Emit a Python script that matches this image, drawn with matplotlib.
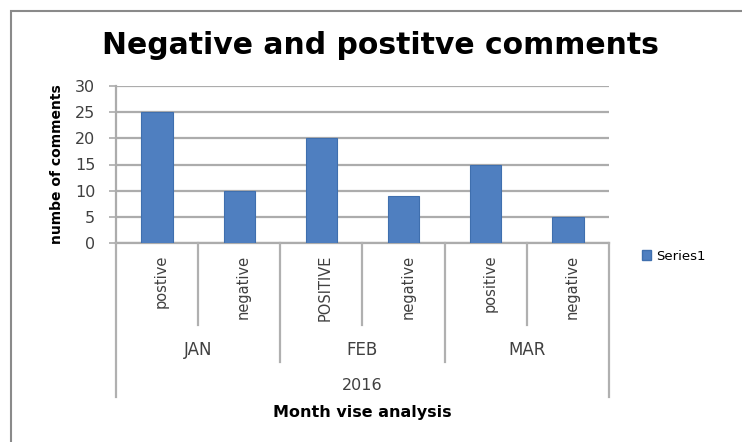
import matplotlib.pyplot as plt
import matplotlib.transforms as mtransforms
from matplotlib.lines import Line2D
from matplotlib.patches import Rectangle, Patch

# chart data
months = ['JAN', 'FEB', 'MAR']
year = '2016'
labels = ['postive', 'negative', 'POSITIVE', 'negative', 'positive', 'negative']
counts = [25, 10, 20, 9, 15, 5]

W, H = 742, 442
fig = plt.figure(figsize=(W / 100, H / 100), dpi=100)
plt.rcParams['font.family'] = ['DejaVu Sans']

def fy(py):
    # pixel row -> figure fraction
    return 1 - py / H

ax_l, ax_r, ax_t, ax_b = 116, 609, 86, 243
ax = fig.add_axes([ax_l / W, fy(ax_b), (ax_r - ax_l) / W, (ax_b - ax_t) / H])

x = list(range(len(counts)))
ax.bar(x, counts, width=0.38, color='#4F7FC0', edgecolor='#3f6fae', linewidth=0.8, zorder=3)
ax.set_xlim(-0.5, len(counts) - 0.5)
ax.set_ylim(0, 30)
ax.set_yticks(range(0, 31, 5))
ax.yaxis.grid(True, color='#acacac', linewidth=1.6, zorder=0)
ax.tick_params(axis='y', length=5, width=1.2, color='#acacac', labelsize=11.5,
               labelcolor='#404040', pad=10)
ax.tick_params(axis='x', bottom=False, labelbottom=False)
for s in ['top', 'right']:
    ax.spines[s].set_visible(False)
for s in ['left', 'bottom']:
    ax.spines[s].set_color('#acacac')
    ax.spines[s].set_linewidth(1.6)

ax.set_ylabel('numbe of comments', fontsize=10, fontweight='bold', labelpad=8,
              family=['Liberation Sans Narrow', 'DejaVu Sans'])

# multi-level category axis
tr = mtransforms.blended_transform_factory(ax.transData, fig.transFigure)
sep = '#b0b0b0'
for i in range(len(counts) + 1):
    xb = i - 0.5
    if i in (0, len(counts)):
        yend = 397
    elif i % 2 == 0:
        yend = 362
    else:
        yend = 325
    fig.add_artist(Line2D([xb, xb], [fy(ax_b), fy(yend)], transform=tr, color=sep, lw=1.6))

for i, lab in enumerate(labels):
    fig.text(i + 0.05, fy(255), lab, transform=tr, rotation=90, ha='center', va='top',
             fontsize=10.5, color='#404040')

for m, name in enumerate(months):
    fig.text(2 * m + 0.5, fy(350), name, transform=tr, ha='center', va='center',
             fontsize=12, color='#404040')

fig.text(2.5, fy(386), year, transform=tr, ha='center', va='center',
         fontsize=11.5, color='#404040')
fig.text(2.5, fy(412), 'Month vise analysis', transform=tr, ha='center', va='center',
         fontsize=11.5, fontweight='bold')

fig.text(380 / W, fy(46), 'Negative and postitve comments', ha='center', va='center',
         fontsize=21.5, fontweight='bold')

# legend
fig.legend(handles=[Patch(facecolor='#4F7FC0', edgecolor='#3f6fae', label='Series1')],
           loc='center left', bbox_to_anchor=(630 / W, fy(256)), frameon=False,
           fontsize=9.5, handlelength=0.7, handleheight=0.7, handletextpad=0.4)

# outer chart border
fig.add_artist(Rectangle((11 / W, fy(H + 5)), (W - 5) / W, (H - 6) / H,
                         transform=fig.transFigure, fill=False, edgecolor='#8a8a8a', lw=1.5))

fig.savefig('out.png', dpi=100)
